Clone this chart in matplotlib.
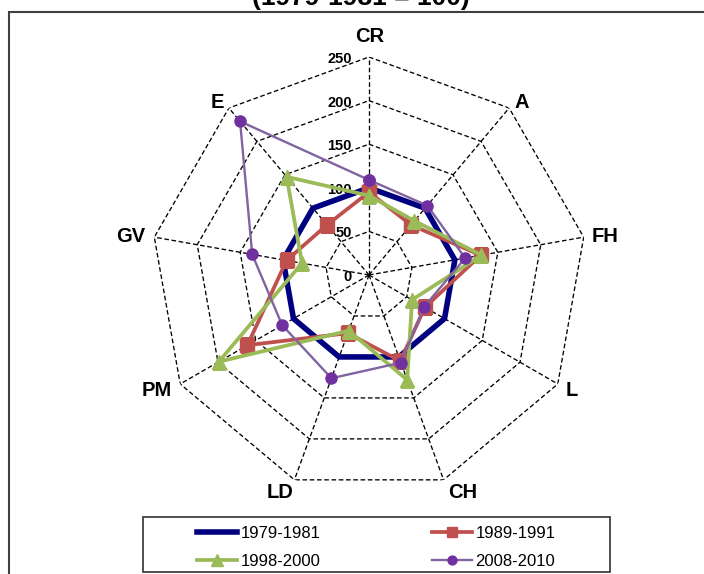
import numpy as np
import matplotlib
matplotlib.use("Agg")
import matplotlib.pyplot as plt

plt.rcParams['font.family'] = ['Liberation Sans', 'DejaVu Sans']

# axes clockwise from the top
categories = ['CR', 'A', 'FH', 'L', 'CH', 'LD', 'PM', 'GV', 'E']
s1979 = [100, 100, 100, 100, 100, 100, 100, 100, 100]
s1989 = [95, 75, 130, 74, 105, 71, 161, 96, 75]
s1998 = [91, 81, 131, 57, 128, 68, 199, 78, 147]
s2008 = [109, 104, 112, 73, 107, 126, 115, 136, 230]
grid_values = [0, 50, 100, 150, 200, 250]
title = "(1979-1981 = 100)"

W, H = 704, 574
fig = plt.figure(figsize=(W / 100, H / 100), dpi=100)

# outer frame (only left and top edges fall inside the picture)
frame = plt.Rectangle((9 / W, -0.1), 1.2, 1.1 - 12 / H, transform=fig.transFigure,
                      fill=False, edgecolor='#404040', lw=1.5)
fig.patches.append(frame)

fig.text(0.512, 1 - 5 / H, title, ha='center', va='baseline', fontsize=19, weight='bold')

cx, cy, R = 369, 275, 218
ax = fig.add_axes([(cx - R) / W, (H - cy - R) / H, 2 * R / W, 2 * R / H], projection='polar')
ax.set_theta_zero_location('N')
ax.set_theta_direction(-1)
ax.set_ylim(0, 250)
ax.grid(False)
ax.set_xticks([])
ax.set_yticks([])
ax.spines['polar'].set_visible(False)
ax.patch.set_visible(False)

n = len(categories)
theta = [2 * np.pi * i / n for i in range(n)]
closed = theta + [theta[0]]

dash = (0, (3.5, 2))
for r in grid_values[1:]:
    ax.plot(closed, [r] * (n + 1), color='black', lw=0.95, ls=dash, zorder=1)
for t in theta:
    ax.plot([t, t], [0, 250], color='black', lw=0.95, ls=dash, zorder=1)

for v in grid_values:
    ax.annotate(str(v), xy=(0, v), xytext=(-17, -2), textcoords='offset pixels',
                ha='right', va='center', fontsize=10.5, weight='bold', zorder=2)

# label centres in pixels from the chart centre
label_off = [(1, 238), (153, 172), (236, 38), (203, -115), (94, -217),
             (-89, -217), (-212, -115), (-238, 38), (-152, 172)]
for lab, (dx, dy) in zip(categories, label_off):
    ax.annotate(lab, xy=(0, 0), xytext=(dx, dy), textcoords='offset pixels',
                ha='center', va='center', fontsize=14.5, weight='bold')

def close(vals):
    return list(vals) + [vals[0]]

ax.plot(closed, close(s1979), color='#000080', lw=4, label='1979-1981', zorder=3)
ax.plot(closed, close(s1989), color='#C0504D', lw=2.7, marker='s', ms=9.5,
        label='1989-1991', zorder=4)
ax.plot(closed, close(s1998), color='#9BBB59', lw=2.7, marker='^', ms=10.5,
        label='1998-2000', zorder=5)
ax.plot(closed, close(s2008), color='#8064A2', lw=1.7, marker='o', ms=8,
        markerfacecolor='#7030A0', markeredgecolor='#7030A0', label='2008-2010', zorder=6)

# legend box
lx0, lx1, ly0, ly1 = 143, 610, 517, 572
box = plt.Rectangle((lx0 / W, (H - ly1) / H), (lx1 - lx0) / W, (ly1 - ly0) / H,
                    transform=fig.transFigure, fill=False, edgecolor='#404040', lw=1.3)
fig.patches.append(box)
handles, labels = ax.get_legend_handles_labels()
order = [0, 2, 1, 3]
fig.legend([handles[i] for i in order], [labels[i] for i in order],
           loc='center', bbox_to_anchor=((lx0 + lx1) / 2 / W, 1 - (ly0 + ly1 + 6) / 2 / H),
           ncol=2, frameon=False, fontsize=12, handlelength=2.4, handletextpad=0.2,
           columnspacing=6.7, labelspacing=0.8, borderpad=0, markerscale=0.8)

fig.savefig('out.png', dpi=100)
